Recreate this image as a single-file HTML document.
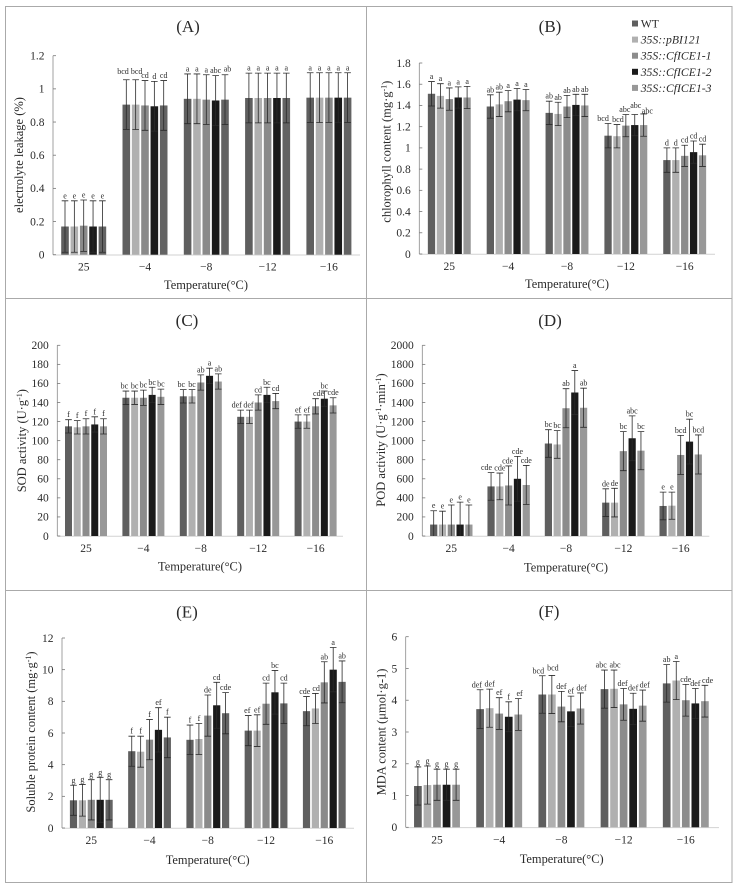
<!DOCTYPE html>
<html lang="en">
<head>
<meta charset="utf-8">
<title>Physiological measurements under low temperature</title>
<style>
html,body{margin:0;padding:0;background:#fff;width:740px;height:890px;overflow:hidden}
svg{display:block;font-family:"Liberation Serif",serif;fill:#2a2a2a;filter:blur(.35px)}
</style>
</head>
<body>
<svg id="figure" width="740" height="890" viewBox="0 0 740 890" xmlns="http://www.w3.org/2000/svg"></svg>
<script>
const categories = ['25', '−4', '−8', '−12', '−16'];
const seriesNames = ['WT', '35S::pBI121', '35S::CfICE1-1', '35S::CfICE1-2', '35S::CfICE1-3'];

const ticksA = ['0', '0.2', '0.4', '0.6', '0.8', '1', '1.2'];
const ticksB = ['0', '0.2', '0.4', '0.6', '0.8', '1', '1.2', '1.4', '1.6', '1.8'];
const ticksC = ['0', '20', '40', '60', '80', '100', '120', '140', '160', '180', '200'];
const ticksD = ['0', '200', '400', '600', '800', '1000', '1200', '1400', '1600', '1800', '2000'];
const ticksE = ['0', '2', '4', '6', '8', '10', '12'];
const ticksF = ['0', '1', '2', '3', '4', '5', '6'];

const valuesA = [[.17,.17,.175,.17,.17],[.905,.905,.9,.895,.9],[.94,.94,.935,.93,.935],[.945,.945,.945,.945,.945],[.947,.947,.947,.947,.947]];
const errorsA = [[.155,.155,.155,.155,.155],[.15,.15,.15,.15,.15],[.15,.15,.15,.15,.15],[.15,.15,.15,.15,.15],[.15,.15,.15,.15,.15]];
const lettersA = [['e','e','e','e','e'],['bcd','bcd','cd','d','cd'],['a','a','a','abc','ab'],['a','a','a','a','a'],['a','a','a','a','a']];

const valuesB = [[1.51,1.49,1.46,1.475,1.475],[1.39,1.41,1.44,1.455,1.45],[1.33,1.32,1.39,1.405,1.40],[1.115,1.11,1.21,1.215,1.215],[.885,.885,.925,.96,.93]];
const errorsB = [[.115,.115,.105,.10,.105],[.11,.115,.10,.105,.10],[.11,.11,.105,.10,.105],[.115,.11,.105,.10,.105],[.115,.115,.10,.105,.105]];
const lettersB = [['a','a','a','a','a'],['ab','ab','a','a','a'],['ab','ab','ab','ab','ab'],['bcd','bcd','abc','abc','abc'],['d','d','cd','cd','cd']];

const valuesC = [[115,114,115,117,115],[145,145,145,148,146],[146.5,146.5,161,168,162],[125,125,140,148,141.5],[120,120,136,144,137]];
const errorsC = [[7,7,8,8,8],[7,7,8,8,8],[7,7,8,8,8],[7,7,8,8,8],[7,7,8,8,8]];
const lettersC = [['f','f','f','f','f'],['bc','bc','bc','bc','bc'],['bc','bc','ab','a','ab'],['def','def','cd','bc','cd'],['ef','ef','cde','bc','cde']];

const valuesD = [[120,120,120,120,120],[520,520,530,600,535],[970,960,1340,1505,1345],[350,350,890,1025,895],[315,318,850,990,855]];
const errorsD = [[145,140,205,235,205],[145,140,205,235,205],[145,145,205,230,205],[145,150,205,235,200],[145,142,205,235,205]];
const lettersD = [['e','e','e','e','e'],['cde','cde','cde','cde','cde'],['bc','bc','ab','a','ab'],['de','de','bc','abc','bc'],['e','e','bcd','bc','bcd']];

const valuesE = [[1.75,1.75,1.78,1.78,1.78],[4.85,4.82,5.58,6.2,5.72],[5.57,5.62,7.1,7.75,7.25],[6.15,6.15,7.85,8.57,7.87],[7.38,7.55,9.2,10,9.23]];
const errorsE = [[.95,1,1.27,1.42,1.27],[.95,.98,1.27,1.4,1.28],[.93,.98,1.3,1.45,1.3],[.95,1,1.3,1.38,1.28],[.92,.95,1.3,1.4,1.32]];
const lettersE = [['g','g','g','g','g'],['f','f','f','ef','f'],['f','f','de','cd','cde'],['ef','ef','cd','bc','cd'],['cde','cd','ab','a','ab']];

const valuesF = [[1.3,1.33,1.34,1.34,1.34],[3.72,3.75,3.58,3.48,3.55],[4.18,4.18,3.8,3.65,3.74],[4.35,4.36,3.87,3.73,3.83],[4.53,4.62,4.0,3.9,3.97]];
const errorsF = [[.6,.6,.49,.49,.49],[.61,.6,.5,.47,.5],[.59,.6,.48,.48,.49],[.6,.59,.5,.49,.49],[.59,.6,.5,.47,.5]];
const lettersF = [['g','g','g','g','g'],['def','def','ef','f','ef'],['bcd','bcd','def','ef','def'],['abc','abc','def','def','def'],['ab','a','cde','def','cde']];

const svg = document.getElementById('figure');
const NS = 'http://www.w3.org/2000/svg';

function make(tag, attrs, parent) {
  const el = document.createElementNS(NS, tag);
  for (const k in attrs) el.setAttribute(k, attrs[k]);
  (parent || svg).appendChild(el);
  return el;
}

const frame = make('g', {});


make('rect', {x: 5.5, y: 6.5, width: 726.5, height: 876, fill: 'none', stroke: '#aaa', 'stroke-width': 1}, frame);
make('line', {x1: 366.5, y1: 6.5, x2: 366.5, y2: 882.5, stroke: '#aaa', 'stroke-width': 1}, frame);
make('line', {x1: 5.5, y1: 298.5, x2: 732, y2: 298.5, stroke: '#aaa', 'stroke-width': 1}, frame);
make('line', {x1: 5.5, y1: 590.5, x2: 732, y2: 590.5, stroke: '#aaa', 'stroke-width': 1}, frame);

const panels = [
  {id:'a', title:'(A)', tx:188, ty:32, values:valuesA, errors:errorsA, letters:lettersA, ticks:ticksA, max:1.2,
   ax0:53, ax1:360, y0:254.7, yTop:55.7, c0:83.7, cStep:61.3, bStep:9.35, bW:7.6,
   ylabel:[['electrolyte leakage (%)']], yx:23, yy:155, xtx:206, xty:289, last:'#636363', third:'#8a8a8a',
   nudge:{'1-0':[-3.3,-3],'1-1':[1,-3],'2-4':[2.5,-1]}},
  {id:'b', title:'(B)', tx:550, ty:32, values:valuesB, errors:errorsB, letters:lettersB, ticks:ticksB, max:1.8,
   ax0:419.3, ax1:715, y0:254, yTop:63, c0:449.3, cStep:58.85, bStep:8.9, bW:7.3,
   ylabel:[['chlorophyll content (mg·g'],['-1','sup'],[')']], yx:390.7, yy:151.7, xtx:567, xty:288, last:'#989898', third:'#8c8c8c',
   nudge:{'3-0':[-5,0],'3-1':[1,0],'3-2':[-1,0],'3-3':[1,-4],'3-4':[3.7,2]}},
  {id:'c', title:'(C)', tx:187, ty:326, values:valuesC, errors:errorsC, letters:lettersC, ticks:ticksC, max:200,
   ax0:57.3, ax1:343, y0:536, yTop:345.3, c0:86, cStep:57.4, bStep:8.75, bW:7,
   ylabel:[['SOD activity (U·g'],['-1','sup'],[')']], yx:26, yy:440.7, xtx:200, xty:570.7, last:'#989898', third:'#8c8c8c',
   nudge:{'1-0':[-1.5,0],'2-0':[-2,0],'3-0':[-4,0],'3-1':[-1,0],'4-2':[3,0]}},
  {id:'d', title:'(D)', tx:550, ty:326, values:valuesD, errors:errorsD, letters:lettersD, ticks:ticksD, max:2000,
   ax0:422.3, ax1:709.3, y0:536, yTop:345.3, c0:451.3, cStep:57.35, bStep:8.8, bW:7.2,
   ylabel:[['POD activity (U·g'],['-1','sup'],['·min'],['-1','sup'],[')']], yx:385, yy:440, xtx:566, xty:571.7, last:'#989898', third:'#8c8c8c',
   nudge:{'1-0':[-4.5,0],'1-2':[-1,0]}},
  {id:'e', title:'(E)', tx:187, ty:617.3, values:valuesE, errors:errorsE, letters:lettersE, ticks:ticksE, max:12,
   ax0:62, ax1:354, y0:828, yTop:638, c0:91.3, cStep:58.25, bStep:8.9, bW:7.2,
   ylabel:[['Soluble protein content (mg·g'],['-1','sup'],[')']], yx:35, yy:732, xtx:207.7, xty:864, last:'#636363', third:'#8a8a8a',
   nudge:{'4-0':[-1.7,0],'4-1':[0.7,0],'3-0':[-1,0]}},
  {id:'f', title:'(F)', tx:549, ty:617, values:valuesF, errors:errorsF, letters:lettersF, ticks:ticksF, max:6,
   ax0:405.7, ax1:719, y0:827.3, yTop:636.7, c0:437, cStep:62.2, bStep:9.55, bW:7.7,
   ylabel:[['MDA content (μmol·g-1)']], yx:385.7, yy:732, xtx:561.7, xty:863, last:'#989898', third:'#8c8c8c',
   nudge:{'1-0':[-3.3,0],'1-4':[1.3,0],'2-0':[-4,0],'2-1':[1,-2.5],'2-4':[1,0],'3-0':[-3.3,0],'3-1':[1,0],'3-2':[-1,0],'3-4':[2,0],'4-4':[2.7,0]}}
];

panels.forEach(function (p) {
  const g = make('g', {});
  
  

  const yScale = function (v) { return p.y0 - (v / p.max) * (p.y0 - p.yTop); };
  const xBand = function (c, s) { return p.c0 + c * p.cStep + (s - 2) * p.bStep; };
  const barColors = ['#5f5f5f', '#b0b0b0', p.third, '#1a1a1a', p.last];

  const title = make('text', {x: p.tx, y: p.ty, 'text-anchor': 'middle', 'font-size': 17}, g);
  title.textContent = p.title;
  
  

  const yAxis = make('line', {x1: p.ax0, y1: p.yTop, x2: p.ax0, y2: p.y0, stroke: '#8a8a8a', 'stroke-width': 0.8}, g);
  
  
  const xAxis = make('line', {x1: p.ax0, y1: p.y0 + 0.3, x2: p.ax1, y2: p.y0 + 0.3, stroke: '#d2d2d2', 'stroke-width': 1}, g);
  
  

  p.ticks.forEach(function (t) {
    const y = yScale(parseFloat(t));
    const tick = make('line', {x1: p.ax0, y1: y, x2: p.ax0 + 3, y2: y, stroke: '#777', 'stroke-width': 0.8}, g);
    
    
    const lab = make('text', {x: p.ax0 - 8.5, y: y + 3.8, 'text-anchor': 'end', 'font-size': 11.5}, g);
    lab.textContent = t;
    
    
  });

  categories.forEach(function (cat, c) {
    const lab = make('text', {x: xBand(c, 2), y: p.y0 + 16, 'text-anchor': 'middle', 'font-size': 11.5}, g);
    lab.textContent = cat;
    
    

    seriesNames.forEach(function (name, s) {
      const v = p.values[c][s];
      const e = p.errors[c][s];
      const x = xBand(c, s);
      const bar = make('rect', {x: x - p.bW / 2, y: yScale(v), width: p.bW, height: p.y0 - yScale(v), fill: barColors[s]}, g);
      
      

      const yHi = yScale(v + e);
      const clipped = v - e < 0;
      const yLo = clipped ? p.y0 : yScale(v - e);
      let d = 'M' + x + ' ' + yHi + 'V' + yLo + 'M' + (x - 3.3) + ' ' + yHi + 'H' + (x + 3.3);
      if (!clipped) d += 'M' + (x - 3.3) + ' ' + yLo + 'H' + (x + 3.3);
      const err = make('path', {d: d, fill: 'none', stroke: '#2a2a2a', 'stroke-width': 0.8}, g);
      
      

      const n = p.nudge[c + '-' + s] || [0, 0];
      const letter = make('text', {x: x + n[0], y: yHi - 2.5 + n[1], 'text-anchor': 'middle', 'font-size': 8}, g);
      letter.textContent = p.letters[c][s];
      
      
    });
  });

  const xTitle = make('text', {x: p.xtx, y: p.xty, 'text-anchor': 'middle', 'font-size': 12.4}, g);
  xTitle.textContent = 'Temperature(°C)';
  
  

  const yTitle = make('text', {'text-anchor': 'middle', 'font-size': 12.5, transform: 'translate(' + p.yx + ' ' + p.yy + ') rotate(-90)'}, g);
  
  
  let prevSup = false;
  p.ylabel.forEach(function (part) {
    const isSup = !!part[1];
    const span = make('tspan', isSup ? {'font-size': 8, dy: -4} : {dy: prevSup ? 4 : 0}, yTitle);
    span.textContent = part[0];
    prevSup = isSup;
  });
});

const legend = make('g', {});


const legendColors = ['#5f5f5f', '#b0b0b0', '#8c8c8c', '#1a1a1a', '#989898'];
seriesNames.forEach(function (name, i) {
  const cy = 23.5 + i * 16.1;
  const sw = make('rect', {x: 632, y: cy - 3, width: 6, height: 6, fill: legendColors[i]}, legend);
  
  
  const attrs = {x: 640.7, y: cy + 4, 'font-size': 11.7};
  if (i > 0) attrs['font-style'] = 'italic';
  const t = make('text', attrs, legend);
  t.textContent = name;
  
  
});
</script>
</body>
</html>
